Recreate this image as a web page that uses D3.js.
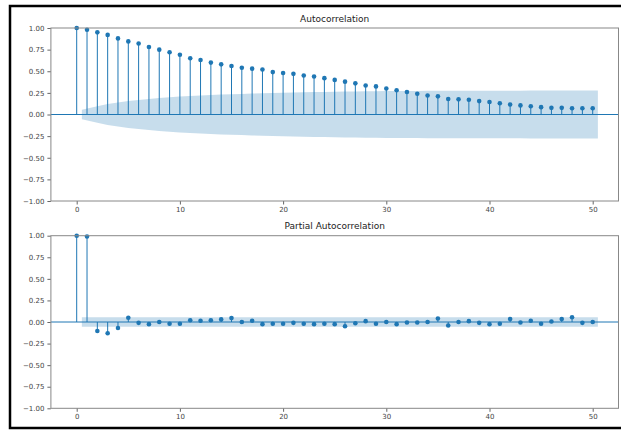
<!DOCTYPE html>
<html>
<head>
<meta charset="utf-8">
<script src="https://cdn.jsdelivr.net/npm/d3@7"></script>
<style>
  html, body { margin: 0; padding: 0; background: #fff; }
  svg { display: block; }
  text { font-family: "DejaVu Sans", sans-serif; }
</style>
</head>
<body>
<svg id="chart" width="621" height="430"></svg>
<script>
// ---- Data ----
const lags = d3.range(0, 51);
const acfValues = [1.00, 0.98, 0.95, 0.92, 0.88, 0.845, 0.82, 0.78, 0.75, 0.72,
  0.69, 0.65, 0.63, 0.60, 0.58, 0.56, 0.54, 0.53, 0.52, 0.49,
  0.48, 0.47, 0.45, 0.44, 0.42, 0.40, 0.38, 0.36, 0.335, 0.325,
  0.30, 0.28, 0.26, 0.24, 0.22, 0.21, 0.18, 0.175, 0.17, 0.155,
  0.145, 0.13, 0.115, 0.105, 0.095, 0.085, 0.077, 0.077, 0.073, 0.073,
  0.072];
// confidence band half-width, lags 1..50
const acfBand = [0.055, 0.094, 0.12, 0.139, 0.155, 0.169, 0.18, 0.19, 0.199, 0.207,
  0.213, 0.219, 0.225, 0.23, 0.234, 0.238, 0.242, 0.245, 0.248, 0.251,
  0.254, 0.257, 0.259, 0.261, 0.263, 0.265, 0.267, 0.268, 0.27, 0.271,
  0.272, 0.273, 0.273, 0.274, 0.274, 0.275, 0.275, 0.275, 0.276, 0.276,
  0.276, 0.276, 0.276, 0.277, 0.277, 0.277, 0.277, 0.277, 0.277, 0.277];
const pacfValues = [1.00, 0.99, -0.105, -0.13, -0.07, 0.05, -0.01, -0.025, 0.0, -0.02,
  -0.02, 0.02, 0.015, 0.02, 0.03, 0.045, 0.0, 0.015, -0.025, -0.02,
  -0.02, -0.01, -0.02, -0.025, -0.02, -0.025, -0.05, -0.015, 0.01, -0.02,
  0.0, -0.025, -0.005, -0.005, 0.0, 0.04, -0.04, 0.0, 0.01, -0.01,
  -0.025, -0.02, 0.035, -0.005, 0.015, -0.02, 0.005, 0.035, 0.055, -0.01,
  0.0];
const pacfBand = [0.055, 0.055, 0.055, 0.055, 0.055, 0.055, 0.055, 0.055, 0.055, 0.055,
  0.055, 0.055, 0.055, 0.055, 0.055, 0.055, 0.055, 0.055, 0.055, 0.055,
  0.055, 0.055, 0.055, 0.055, 0.055, 0.055, 0.055, 0.055, 0.055, 0.055,
  0.055, 0.055, 0.055, 0.055, 0.055, 0.055, 0.055, 0.055, 0.055, 0.055,
  0.055, 0.055, 0.055, 0.055, 0.055, 0.055, 0.055, 0.055, 0.055, 0.055];
const xTicks = [0, 10, 20, 30, 40, 50];
const yTicks = [1.00, 0.75, 0.50, 0.25, 0.00, -0.25, -0.50, -0.75, -1.00];
const titles = ["Autocorrelation", "Partial Autocorrelation"];

// ---- Drawing ----
const C0 = "#1f77b4";
const svg = d3.select("#chart");

// outer black frame
svg.append("rect")
  .attr("x", 10).attr("y", 6).attr("width", 640).attr("height", 422)
  .attr("fill", "none").attr("stroke", "#000").attr("stroke-width", 2.5);

const x = d3.scaleLinear().domain([-2.5, 52.5]).range([50.9, 618.5]);

function panel(top, bottom, values, band, title) {
  const y = d3.scaleLinear().domain([-1, 1]).range([bottom, top]);
  const g = svg.append("g");

  // y axis
  const yAxis = d3.axisLeft(y).tickValues(yTicks).tickSize(3.5).tickPadding(3)
    .tickFormat(d => d3.format(".2f")(d).replace("-", "\u2212"));
  const ga = g.append("g").attr("transform", `translate(${x.range()[0]},0)`).call(yAxis);
  ga.select(".domain").remove();
  ga.selectAll("line").attr("stroke", "#666");
  ga.selectAll("text").attr("font-size", 7).attr("fill", "#444")
    .attr("font-family", "DejaVu Sans, sans-serif");

  // x axis
  const xAxis = d3.axisBottom(x).tickValues(xTicks).tickSize(3.5).tickPadding(2.5)
    .tickFormat(d3.format("d"));
  const gx = g.append("g").attr("transform", `translate(0,${bottom})`).call(xAxis);
  gx.select(".domain").remove();
  gx.selectAll("line").attr("stroke", "#666");
  gx.selectAll("text").attr("font-size", 7).attr("fill", "#444")
    .attr("font-family", "DejaVu Sans, sans-serif");

  // stems
  g.append("g").selectAll("line").data(lags).join("line")
    .attr("x1", d => x(d)).attr("x2", d => x(d))
    .attr("y1", y(0)).attr("y2", d => y(values[d]))
    .attr("stroke", C0).attr("stroke-width", 1);

  // zero line
  g.append("line")
    .attr("x1", x.range()[0]).attr("x2", x.range()[1])
    .attr("y1", y(0)).attr("y2", y(0))
    .attr("stroke", C0).attr("stroke-width", 1);

  // markers
  g.append("g").selectAll("circle").data(lags).join("circle")
    .attr("cx", d => x(d)).attr("cy", d => y(values[d]))
    .attr("r", 2.3).attr("fill", C0);

  // confidence band
  const bandLags = lags.slice(1).map((l, i, arr) =>
    i === 0 ? l - 0.5 : (i === arr.length - 1 ? l + 0.5 : l));
  const area = d3.area()
    .x((d, i) => x(bandLags[i]))
    .y0(d => y(-d)).y1(d => y(d));
  g.append("path").datum(band).attr("d", area)
    .attr("fill", C0).attr("fill-opacity", 0.25).attr("stroke", "none");

  // spines
  g.append("rect")
    .attr("x", x.range()[0]).attr("y", top)
    .attr("width", x.range()[1] - x.range()[0]).attr("height", bottom - top)
    .attr("fill", "none").attr("stroke", "#888").attr("stroke-width", 1);

  // title
  g.append("text")
    .attr("x", (x.range()[0] + x.range()[1]) / 2).attr("y", top - 6.5)
    .attr("text-anchor", "middle").attr("font-size", 9).attr("fill", "#222")
    .text(title);
}

panel(28, 201, acfValues, acfBand, titles[0]);
panel(235.7, 408.3, pacfValues, pacfBand, titles[1]);
</script>
</body>
</html>
